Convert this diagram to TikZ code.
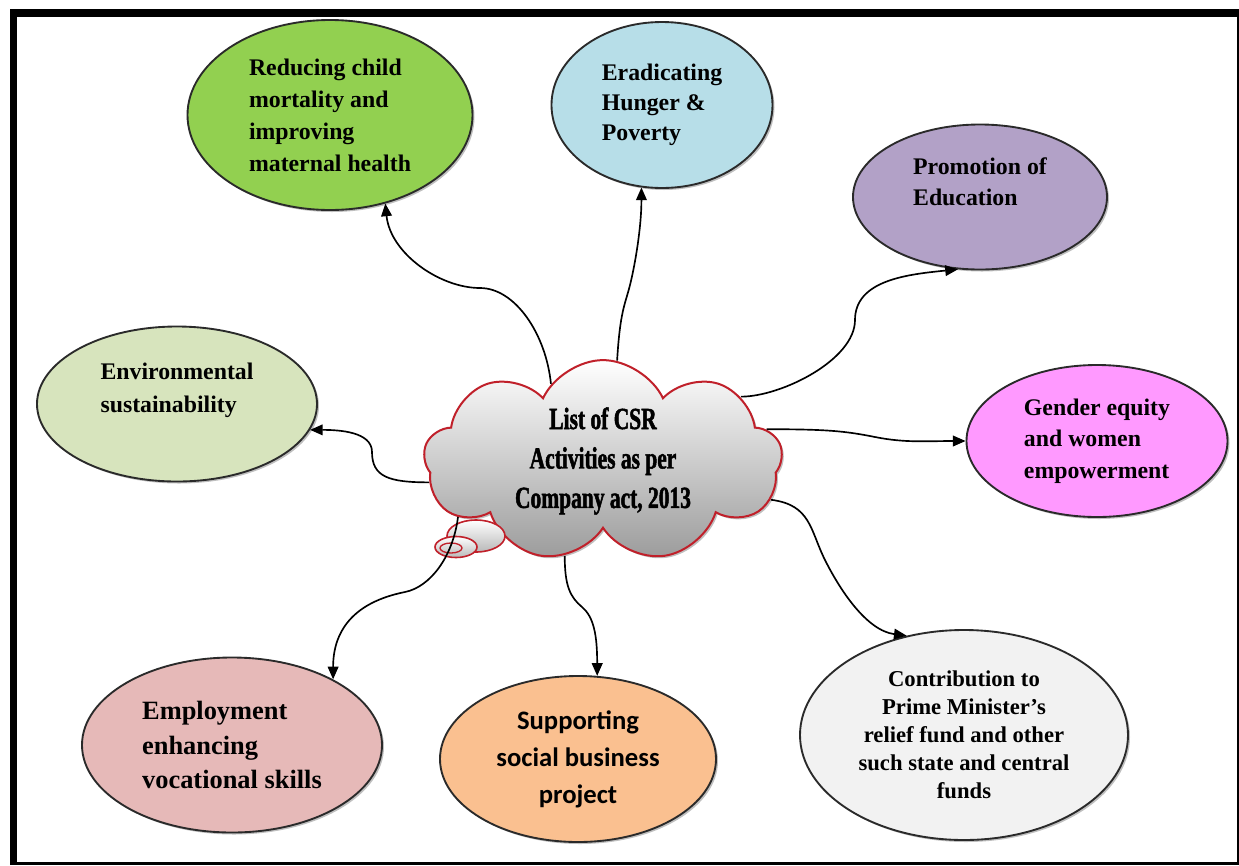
\documentclass[tikz,border=0pt]{standalone}
\usepackage{fontspec}
\setmainfont{Liberation Serif}
\newfontfamily\cloudfont[FakeStretch=0.7,FakeBold=1.6]{Liberation Serif Bold}
\newfontfamily\calfont{Carlito}
\usetikzlibrary{shapes.geometric,shapes.symbols,arrows.meta,shadows}
\definecolor{cgreen}{HTML}{92D050}
\definecolor{cblue}{HTML}{B7DEE8}
\definecolor{cpurple}{HTML}{B2A1C7}
\definecolor{cpink}{HTML}{FF99FF}
\definecolor{cenv}{HTML}{D7E4BD}
\definecolor{cemp}{HTML}{E6B9B8}
\definecolor{corange}{HTML}{FAC090}
\definecolor{cgrey}{HTML}{F2F2F2}
\definecolor{cred}{HTML}{C0202A}
\definecolor{cline}{HTML}{2A2A2A}
\begin{document}
\begin{tikzpicture}[x=0.75pt,y=-0.75pt,
  shad/.style={drop shadow={shadow xshift=1.5pt,shadow yshift=-1.5pt,opacity=0.25,fill=black}},
  goal/.style={ellipse,draw=cline,line width=1.4pt,inner sep=0pt,shad,text=black},
  serifA/.style={font=\fontsize{17.85}{23.5}\selectfont\bfseries,align=left},
  conn/.style={draw=black,line width=1.25pt,-{Triangle[length=9.5pt,width=8pt]}},
  puff/.style={ellipse,draw=cred,line width=1.2pt,inner sep=0pt,top color=white,bottom color=gray!55}
]
\useasboundingbox (0,0) rectangle (1239,865);
\fill[white] (0,0) rectangle (1239,865);
\fill[black] (10,9) rectangle (1239,865);
\fill[white] (17,17) rectangle (1237,862);

% goal ellipses
\node[goal,serifA,fill=cgreen,minimum width=213.75pt,minimum height=142.5pt,font=\fontsize{17.85}{24}\selectfont\bfseries]
  (green) at (330,115) {Reducing child\\mortality and\\improving\\maternal health};
\node[goal,serifA,fill=cblue,minimum width=165.75pt,minimum height=124.5pt,font=\fontsize{17.85}{22.5}\selectfont\bfseries]
  (blue) at (662,105) {Eradicating\\Hunger \&\\Poverty};
\node[goal,serifA,fill=cpurple,minimum width=190.5pt,minimum height=108.75pt]
  (purple) at (980,197) {Promotion of\\Education\\\mbox{}};
\node[goal,serifA,fill=cpink,minimum width=195.75pt,minimum height=114pt]
  (pink) at (1097,441) {Gender equity\\and women\\empowerment};
\node[goal,serifA,fill=cenv,minimum width=210pt,minimum height=116.25pt,font=\fontsize{17.85}{24.5}\selectfont\bfseries]
  (env) at (177,404) {Environmental\\sustainability\\\mbox{}};
\node[goal,fill=cemp,minimum width=225pt,minimum height=131.25pt,align=left,font=\fontsize{19.8}{26}\selectfont\bfseries]
  (employ) at (232,745) {Employment\\enhancing\\vocational skills};
\node[goal,fill=corange,minimum width=207pt,minimum height=124.5pt,align=center,font=\calfont\bfseries\fontsize{20}{27.75}\selectfont]
  (support) at (578,759) {Supporting\\social business\\project};
\node[goal,fill=cgrey,minimum width=246pt,minimum height=157.5pt,align=center,font=\fontsize{17}{21}\selectfont\bfseries]
  (contrib) at (964,735) {Contribution to\\Prime Minister's\\relief fund and other\\such state and central\\funds};

% central cloud
\node[cloud,cloud puffs=9,cloud puff arc=130,aspect=1.8,draw=cred,line width=1.5pt,
  top color=white,bottom color=gray!78,shad,inner sep=0pt,
  minimum width=269pt,minimum height=148pt,align=center,
  font=\cloudfont\fontsize{23}{29.6}\selectfont]
  (cloud) at (603,461) {List of CSR\\Activities as per\\Company act, 2013};
\node[puff,minimum width=43.5pt,minimum height=24pt] (b1) at (476,536) {};
\node[puff,minimum width=31.5pt,minimum height=15.75pt] (b2) at (456,547) {};
\node[ellipse,draw=cred,line width=1pt,inner sep=0pt,minimum width=16.5pt,minimum height=7.5pt] (b3) at (451,548) {};

% waypoints
\coordinate (wg) at (480,288);
\coordinate (wb) at (630,285);
\coordinate (wp) at (855,320);
\coordinate (wk) at (875,437);
\coordinate (wc) at (825,560);
\coordinate (ws) at (582,607);
\coordinate (es) at (458,517);
\coordinate (we) at (405,592);
\coordinate (wv) at (372,452);

% connectors
\draw[conn] (cloud.124) .. controls +(-5,-50) and +(35,0) .. (wg) .. controls +(-40,0) and +(5,50) .. (green.-58);
\draw[conn] (cloud.82) .. controls +(3,-50) and +(-5,20) .. (wb) .. controls +(5,-20) and +(0,40) .. (blue.-104);
\draw[conn] (cloud.25) .. controls +(40,0) and +(0,40) .. (wp) .. controls +(0,-40) and +(-50,5) .. (purple.-107);
\draw[conn] (cloud.11) .. controls +(60,0) and +(-30,-6) .. (wk) .. controls +(30,6) and +(-40,0) .. (pink.180);
\draw[conn] (cloud.-13) .. controls +(40,5) and +(-15,-30) .. (wc) .. controls +(15,30) and +(-40,-5) .. (contrib.120);
\draw[conn] (cloud.-112) .. controls +(0,30) and +(-12,-10) .. (ws) .. controls +(12,10) and +(0,-40) .. (support.77);
\draw[conn] (es) .. controls +(-5,40) and +(25,-5) .. (we) .. controls +(-50,10) and +(0,-50) .. (employ.33);
\draw[conn] (cloud.-173.5) .. controls +(-40,0) and +(0,25) .. (wv) .. controls +(0,-20) and +(30,0) .. (env.-11);
\end{tikzpicture}
\end{document}
